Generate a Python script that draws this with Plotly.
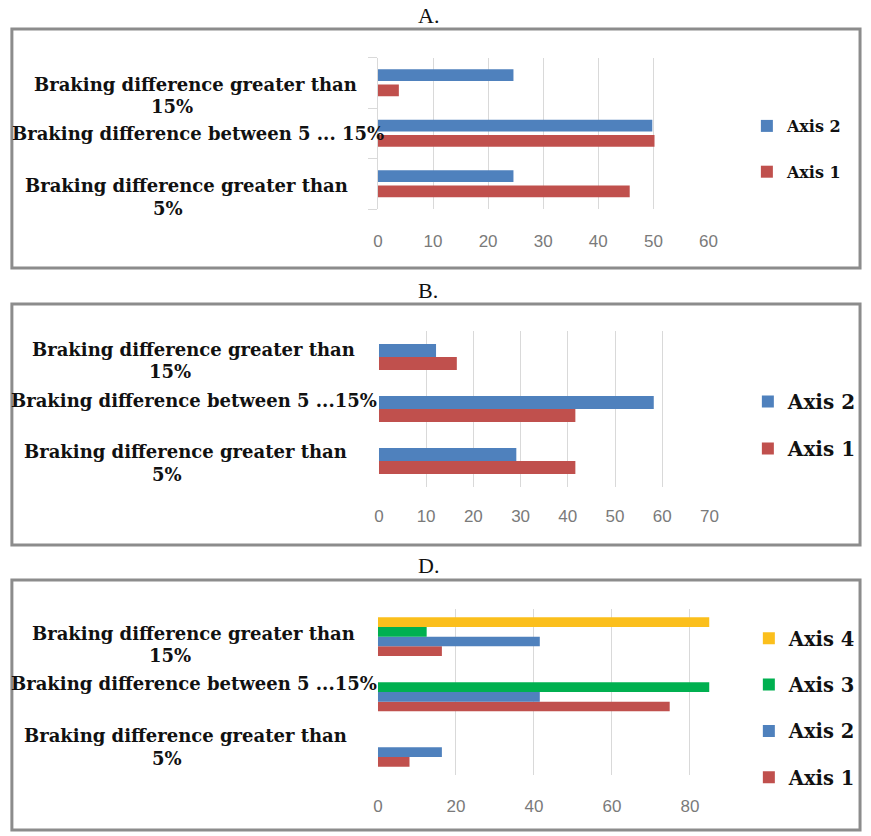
import plotly.graph_objects as go

W, H = 871, 836

# Category labels (bottom to top), each split into its wrapped lines
CATEGORIES = [
    "Braking difference greater than 5%",
    "Braking difference between 5 ... 15%",
    "Braking difference greater than 15%",
]
LABEL_LINES_A = [["Braking difference greater than", "5%"],
                 ["Braking difference between 5 ... 15%"],
                 ["Braking difference greater than", "15%"]]
LABEL_LINES_BD = [["Braking difference greater than", "5%"],
                  ["Braking difference between 5 ...15%"],
                  ["Braking difference greater than", "15%"]]

SERIES_NAMES = ["Axis 1", "Axis 2", "Axis 3", "Axis 4"]
COLORS = ["#C0504D", "#4F81BD", "#00B050", "#FBBF1C"]

# Panel A
A_AXIS1 = [45.7, 50.2, 3.8]
A_AXIS2 = [24.6, 49.8, 24.6]
# Panel B
B_AXIS1 = [41.6, 41.6, 16.5]
B_AXIS2 = [29.1, 58.2, 12.1]
# Panel D
D_AXIS1 = [8.1, 74.8, 16.4]
D_AXIS2 = [16.4, 41.5, 41.5]
D_AXIS3 = [0, 85, 12.5]
D_AXIS4 = [0, 0, 85]

PANEL_TITLES = ["A.", "B.", "D."]
X_TICKS_A = [0, 10, 20, 30, 40, 50, 60]
X_TICKS_B = [0, 10, 20, 30, 40, 50, 60, 70]
X_TICKS_D = [0, 20, 40, 60, 80]


def px(x):
    return x / W


def py(y):
    return 1 - y / H


LABEL_FONT = dict(family="DejaVu Serif", size=18, color="#111111")
TICK_FONT = dict(family="Liberation Sans", size=17, color="#7a7a7a")

panels = [
    dict(title=PANEL_TITLES[0], title_y=15.5, box=(7, 29, 869, 268),
         plot=(379, 57.5, 715, 209), xrange=[0, 60], ticks=X_TICKS_A,
         series=[A_AXIS1, A_AXIS2], width=0.23, offsets=[-0.265, 0.035],
         legend_font=16, legend_top=109, legend_x=754, cat_ticks=True,
         standoff=20, lines=LABEL_LINES_A,
         # (x centre, vertical shift in px) for each line of each label
         label_pos=[[(184, 2), (166, 25)], [(196.5, 0)], [(194, 1.75), (170, 24)]]),
    dict(title=PANEL_TITLES[1], title_y=290.5, box=(7, 304, 869, 545),
         plot=(380, 331, 716, 487), xrange=[0, 70], ticks=X_TICKS_B,
         series=[B_AXIS1, B_AXIS2], width=0.25, offsets=[-0.25, 0.0],
         legend_font=20, legend_top=382, legend_x=755, cat_ticks=False,
         standoff=17, lines=LABEL_LINES_BD,
         label_pos=[[(183, -9), (165, 13.5)], [(192, -8)], [(192, -7), (168, 15)]]),
    dict(title=PANEL_TITLES[2], title_y=565, box=(7, 580, 869, 830),
         plot=(379, 609, 716, 775), xrange=[0, 85], ticks=X_TICKS_D,
         series=[D_AXIS1, D_AXIS2, D_AXIS3, D_AXIS4], width=0.175,
         offsets=[-0.35, -0.175, 0.0, 0.175],
         legend_font=19.5, legend_top=619, legend_x=756, cat_ticks=False,
         standoff=19, lines=LABEL_LINES_BD,
         label_pos=[[(183, -12), (165, 11)], [(192, -8.5)], [(192, -3), (168, 19)]]),
]

fig = go.Figure()
layout = dict(
    width=W, height=H, margin=dict(l=0, r=0, t=0, b=0),
    paper_bgcolor="white", plot_bgcolor="white", barmode="overlay",
    annotations=[], shapes=[],
)

for i, p in enumerate(panels):
    n = "" if i == 0 else str(i + 1)
    xa, ya = "x" + n, "y" + n
    leg = "legend" + n
    for k, vals in enumerate(p["series"]):
        fig.add_trace(go.Bar(
            x=vals, y=CATEGORIES, orientation="h",
            name=SERIES_NAMES[k], marker=dict(color=COLORS[k], line=dict(width=0)),
            width=p["width"], offset=p["offsets"][k],
            xaxis=xa, yaxis=ya, legend=leg, legendgroup=f"{i}-{k}",
            legendrank=100 - k, hoverinfo="x+name",
        ))

    x0, y0, x1, y1 = p["plot"]
    layout["xaxis" + n] = dict(
        domain=[px(x0), px(x1)], anchor=ya, range=p["xrange"],
        tickmode="array", tickvals=p["ticks"], showgrid=True,
        gridcolor="#d9d9d9", gridwidth=1, zeroline=False, showline=False,
        ticks="", tickfont=TICK_FONT, ticklabelstandoff=p["standoff"],
        fixedrange=True,
    )
    yax = dict(
        domain=[py(y1), py(y0)], anchor=xa, type="category",
        categoryorder="array", categoryarray=CATEGORIES, range=[-0.5, 2.5],
        showticklabels=False, showgrid=False, zeroline=False, fixedrange=True,
    )
    if p["cat_ticks"]:
        yax.update(showline=True, linecolor="#d9d9d9", ticks="outside",
                   tickson="boundaries", ticklen=9, tickcolor="#d9d9d9")
    else:
        yax.update(showline=False, ticks="")
    layout["yaxis" + n] = yax

    layout[leg] = dict(
        x=px(p["legend_x"]), y=py(p["legend_top"]), xanchor="left", yanchor="top",
        traceorder="grouped", tracegroupgap=18 if i else 22,
        font=dict(family="DejaVu Serif", size=p["legend_font"], color="#111111",
                  weight="bold"),
        bgcolor="rgba(0,0,0,0)", itemclick=False, itemdoubleclick=False,
    )

    # Panel title
    layout["annotations"].append(dict(
        text=p["title"], x=px(430), y=py(p["title_y"]), xref="paper", yref="paper",
        showarrow=False, xanchor="center", yanchor="middle",
        font=dict(family="Liberation Serif", size=22, color="#111111"),
    ))
    # Category labels, line by line
    for c, lines in enumerate(p["lines"]):
        for line, (cx, dy) in zip(lines, p["label_pos"][c]):
            layout["annotations"].append(dict(
                text=line, x=px(cx), y=CATEGORIES[c], xref="paper", yref=ya,
                yshift=-dy, showarrow=False, xanchor="center", yanchor="middle",
                font=dict(LABEL_FONT, weight="bold"),
            ))
    # Panel frame
    bx0, by0, bx1, by1 = p["box"]
    layout["shapes"].append(dict(
        type="rect", xref="paper", yref="paper", x0=px(bx0), x1=px(bx1),
        y0=py(by1), y1=py(by0), line=dict(color="#8c8c8c", width=3),
        layer="below",
    ))

fig.update_layout(**layout)
fig.write_html("out.html")
